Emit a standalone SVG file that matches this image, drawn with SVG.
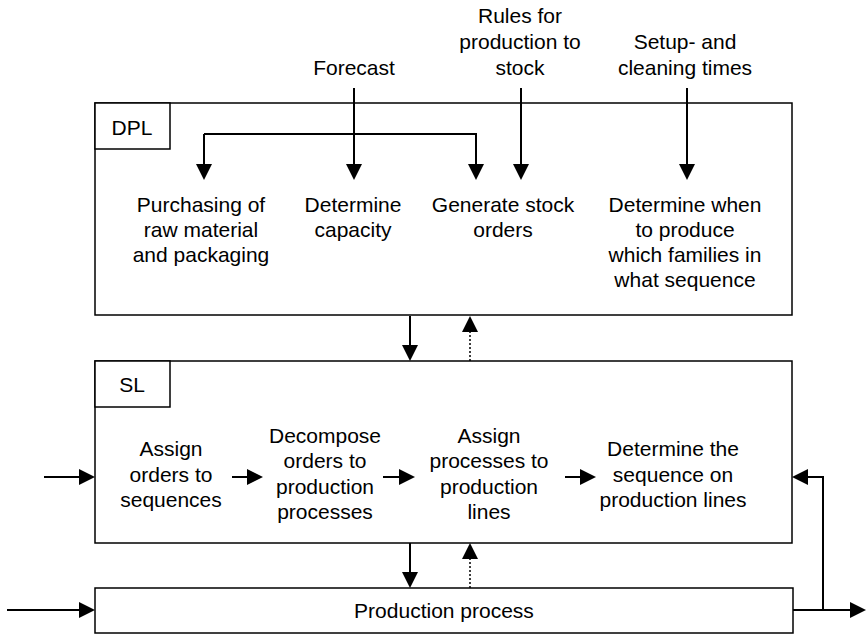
<svg xmlns="http://www.w3.org/2000/svg" width="866" height="634" viewBox="0 0 866 634">
<style>
text{font-family:"Liberation Sans",Arial,sans-serif;font-size:21px;fill:#000;text-anchor:middle}
.box{fill:#fff;stroke:#000;stroke-width:1.5}
.ln{fill:none;stroke:#000;stroke-width:2}
.dot{fill:none;stroke:#000;stroke-width:1.5;stroke-dasharray:2 2}
</style>
<defs>
<marker id="ah" viewBox="0 0 16 16" refX="12" refY="8" markerWidth="16" markerHeight="16" markerUnits="userSpaceOnUse" orient="auto">
<path d="M0,0 L16,8 L0,16 z" fill="#000"/>
</marker>
</defs>
<rect width="866" height="634" fill="#fff"/>
<g id="dpl">
<rect class="box" x="95" y="103" width="697" height="212"/>
<rect class="box" x="95" y="103" width="75" height="46"/>
<text x="132" y="135">DPL</text>
</g>
<g id="sl">
<rect class="box" x="95" y="361" width="697" height="182"/>
<rect class="box" x="95" y="361" width="75" height="46"/>
<text x="132" y="392">SL</text>
</g>
<g id="production">
<rect class="box" x="95" y="588" width="698" height="45"/>
<text x="444" y="618">Production process</text>
</g>
<g id="forecast"><text x="354" y="75">Forecast</text></g>
<g id="rules"><text x="520" y="23">Rules for</text><text x="520" y="49">production to</text><text x="520" y="75">stock</text></g>
<g id="setup"><text x="685" y="49">Setup- and</text><text x="685" y="75">cleaning times</text></g>
<g id="purchasing"><text x="201" y="212">Purchasing of</text><text x="201" y="237">raw material</text><text x="201" y="262">and packaging</text></g>
<g id="capacity"><text x="353" y="212">Determine</text><text x="353" y="237">capacity</text></g>
<g id="stockorders"><text x="503" y="212">Generate stock</text><text x="503" y="237">orders</text></g>
<g id="families"><text x="685" y="212">Determine when</text><text x="685" y="237">to produce</text><text x="685" y="262">which families in</text><text x="685" y="287">what sequence</text></g>
<g id="assignorders"><text x="171" y="456">Assign</text><text x="171" y="482">orders to</text><text x="171" y="507">sequences</text></g>
<g id="decompose"><text x="325" y="443">Decompose</text><text x="325" y="468">orders to</text><text x="325" y="494">production</text><text x="325" y="519">processes</text></g>
<g id="assignprocesses"><text x="489" y="443">Assign</text><text x="489" y="468">processes to</text><text x="489" y="494">production</text><text x="489" y="519">lines</text></g>
<g id="sequence"><text x="673" y="456">Determine the</text><text x="673" y="482">sequence on</text><text x="673" y="507">production lines</text></g>
<g id="connectors">
<path class="ln" d="M204,134 L204,176" marker-end="url(#ah)"/>
<path class="ln" d="M204,134 L476,134 L476,176" marker-end="url(#ah)"/>
<path class="ln" d="M354,88 L354,176" marker-end="url(#ah)"/>
<path class="ln" d="M521,88 L521,176" marker-end="url(#ah)"/>
<path class="ln" d="M687,88 L687,176" marker-end="url(#ah)"/>
<path class="ln" d="M410,316 L410,357" marker-end="url(#ah)"/>
<path class="dot" d="M470,361 L470,320" marker-end="url(#ah)"/>
<path class="ln" d="M44,477 L91,477" marker-end="url(#ah)"/>
<path class="ln" d="M232,477 L259,477" marker-end="url(#ah)"/>
<path class="ln" d="M383,477 L411,477" marker-end="url(#ah)"/>
<path class="ln" d="M565,477 L592,477" marker-end="url(#ah)"/>
<path class="ln" d="M410,543 L410,584" marker-end="url(#ah)"/>
<path class="dot" d="M470,588 L470,547" marker-end="url(#ah)"/>
<path class="ln" d="M7,610 L91,610" marker-end="url(#ah)"/>
<path class="ln" d="M793,610 L862,610" marker-end="url(#ah)"/>
<path class="ln" d="M823,610 L823,477 L796,477" marker-end="url(#ah)"/>
</g>
</svg>
